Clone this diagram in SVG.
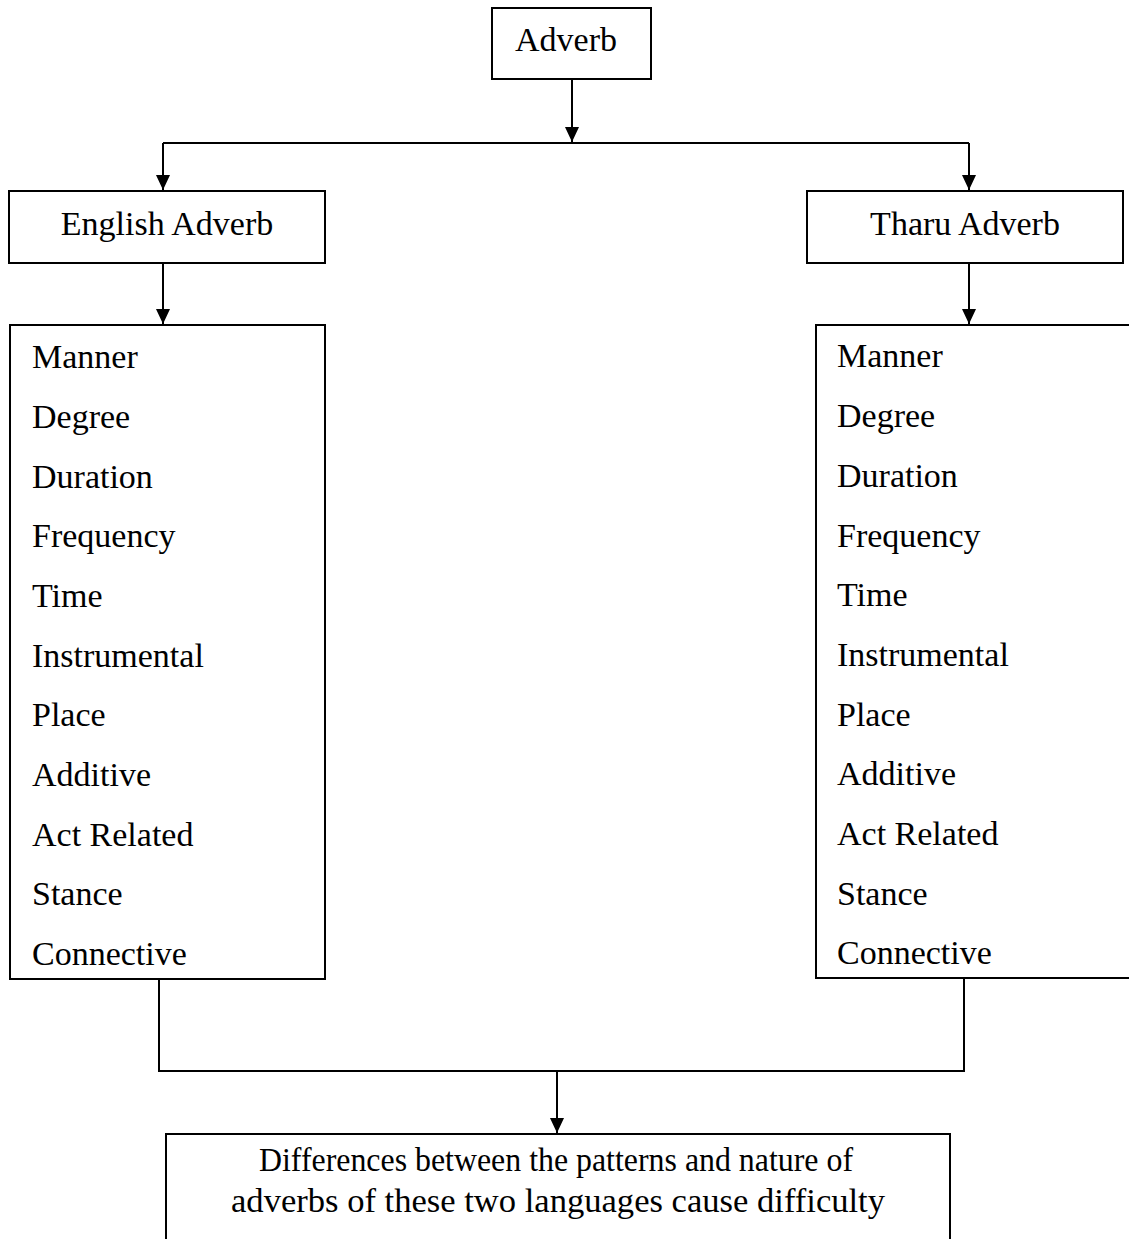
<svg xmlns="http://www.w3.org/2000/svg" width="1129" height="1239" viewBox="0 0 1129 1239">
<style>
.box{fill:#fff;stroke:#000;stroke-width:2}
.t{font-family:"Liberation Serif","Times New Roman",serif;font-size:34px;fill:#000}
.c{text-anchor:middle}
.ln{fill:none;stroke:#000;stroke-width:2}
</style>
<defs>
<marker id="ah" markerWidth="15" markerHeight="14" refX="15" refY="7" orient="auto" markerUnits="userSpaceOnUse">
<path d="M0,0 L15,7 L0,14 Z" fill="#000"/>
</marker>
</defs>
<rect width="1129" height="1239" fill="#fff"/>
<g id="connectors">
<path class="ln" d="M572,79 V142" marker-end="url(#ah)"/>
<path class="ln" d="M163,143 H969"/>
<path class="ln" d="M163,143 V190" marker-end="url(#ah)"/>
<path class="ln" d="M969,143 V190" marker-end="url(#ah)"/>
<path class="ln" d="M163,263 V324" marker-end="url(#ah)"/>
<path class="ln" d="M969,263 V324" marker-end="url(#ah)"/>
<path class="ln" d="M159,979 V1071 H964 V978"/>
<path class="ln" d="M557,1071 V1133" marker-end="url(#ah)"/>
</g>
<g id="adverb">
<rect class="box" x="492" y="8" width="159" height="71"/>
<text class="t c" x="566" y="51">Adverb</text>
</g>
<g id="english">
<rect class="box" x="9" y="191" width="316" height="72"/>
<text class="t c" x="167" y="235">English Adverb</text>
</g>
<g id="tharu">
<rect class="box" x="807" y="191" width="316" height="72"/>
<text class="t c" x="965" y="235">Tharu Adverb</text>
</g>
<g id="english-list">
<rect class="box" x="10" y="325" width="315" height="654"/>
<text class="t" x="32" y="368">Manner</text>
<text class="t" x="32" y="428">Degree</text>
<text class="t" x="32" y="488">Duration</text>
<text class="t" x="32" y="547">Frequency</text>
<text class="t" x="32" y="607">Time</text>
<text class="t" x="32" y="667">Instrumental</text>
<text class="t" x="32" y="726">Place</text>
<text class="t" x="32" y="786">Additive</text>
<text class="t" x="32" y="846">Act Related</text>
<text class="t" x="32" y="905">Stance</text>
<text class="t" x="32" y="965">Connective</text>
</g>
<g id="tharu-list">
<rect class="box" x="816" y="325" width="330" height="653"/>
<text class="t" x="837" y="367">Manner</text>
<text class="t" x="837" y="427">Degree</text>
<text class="t" x="837" y="487">Duration</text>
<text class="t" x="837" y="547">Frequency</text>
<text class="t" x="837" y="606">Time</text>
<text class="t" x="837" y="666">Instrumental</text>
<text class="t" x="837" y="726">Place</text>
<text class="t" x="837" y="785">Additive</text>
<text class="t" x="837" y="845">Act Related</text>
<text class="t" x="837" y="905">Stance</text>
<text class="t" x="837" y="964">Connective</text>
</g>
<g id="result">
<rect class="box" x="166" y="1134" width="784" height="130"/>
<text class="t c" x="556" y="1171" textLength="594" lengthAdjust="spacingAndGlyphs">Differences between the patterns and nature of</text>
<text class="t c" x="558" y="1212" textLength="654" lengthAdjust="spacingAndGlyphs">adverbs of these two languages cause difficulty</text>
</g>
</svg>
